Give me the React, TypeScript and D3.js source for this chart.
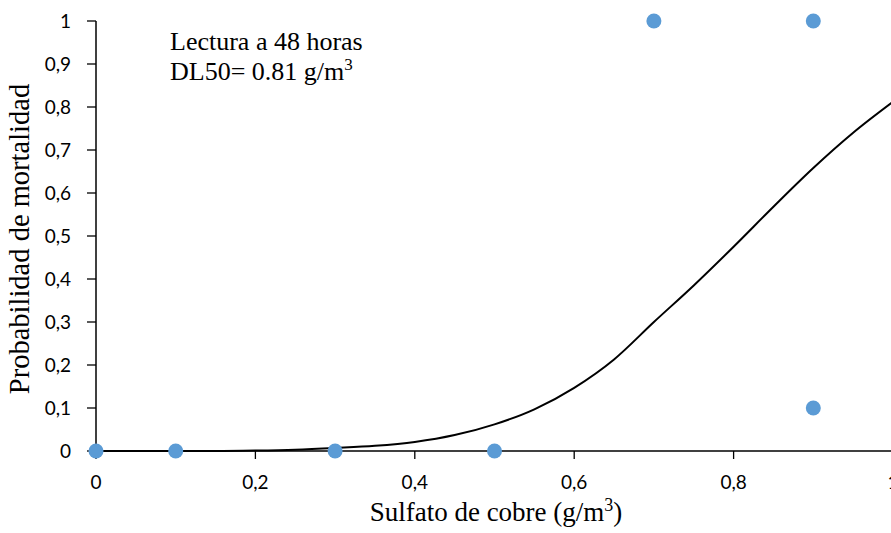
import React, { useRef, useEffect } from "react";
import * as d3 from "d3";

// observed points
const obsX = [0, 0.1, 0.3, 0.5, 0.7, 0.9, 0.9];
const obsY = [0, 0, 0, 0, 1, 1, 0.1];

// fitted probit curve
const fitX = [0, 0.05, 0.1, 0.15, 0.2, 0.25, 0.3, 0.35, 0.4, 0.45, 0.5, 0.55, 0.6, 0.65, 0.7, 0.75, 0.8, 0.85, 0.9, 0.95, 1.0];
const fitY = [0, 0, 0, 0, 0.001, 0.003, 0.007, 0.012, 0.021, 0.037, 0.062, 0.097, 0.147, 0.213, 0.3, 0.385, 0.475, 0.568, 0.658, 0.74, 0.812];

const xTicks = [0, 0.2, 0.4, 0.6, 0.8, 1];
const yTicks = [0, 0.1, 0.2, 0.3, 0.4, 0.5, 0.6, 0.7, 0.8, 0.9, 1];

const W = 891;
const H = 533;
const fmt = (v: number) => String(Math.round(v * 10) / 10).replace(".", ",");

const App = () => {
  const ref = useRef<SVGSVGElement>(null);

  useEffect(() => {
    const svg = d3.select(ref.current);
    svg.selectAll("*").remove();

    const x = d3.scaleLinear().domain([0, 1]).range([96, 893]);
    const y = d3.scaleLinear().domain([0, 1]).range([451, 21]);
    const tickFont = "Lato, 'Open Sans', sans-serif";
    const serif = "'Liberation Serif', 'Times New Roman', serif";

    // y axis
    svg.append("line").attr("x1", 96).attr("x2", 96).attr("y1", y(1)).attr("y2", y(0))
      .attr("stroke", "#000").attr("stroke-width", 1.5);
    yTicks.forEach((t) => {
      svg.append("line").attr("x1", 87).attr("x2", 96).attr("y1", y(t)).attr("y2", y(t))
        .attr("stroke", "#000").attr("stroke-width", 1.3);
      svg.append("text").attr("x", 71).attr("y", y(t)).attr("dy", "0.36em")
        .attr("text-anchor", "end").style("font-family", tickFont).style("font-size", "19px")
        .attr("fill", "#000").text(fmt(t));
    });

    // x axis
    svg.append("line").attr("x1", x(0)).attr("x2", x(1)).attr("y1", y(0)).attr("y2", y(0))
      .attr("stroke", "#000").attr("stroke-width", 1.5);
    xTicks.forEach((t) => {
      svg.append("line").attr("x1", x(t)).attr("x2", x(t)).attr("y1", y(0)).attr("y2", y(0) + 8)
        .attr("stroke", "#000").attr("stroke-width", 1.3);
      svg.append("text").attr("x", x(t)).attr("y", 489)
        .attr("text-anchor", "middle").style("font-family", tickFont).style("font-size", "19px")
        .attr("fill", "#000").text(fmt(t));
    });

    // fitted line
    const pts = fitX.map((v, i) => [v, fitY[i]] as [number, number]);
    const line = d3.line<[number, number]>()
      .x((d) => x(d[0]))
      .y((d) => y(d[1]))
      .curve(d3.curveMonotoneX);
    svg.append("path").datum(pts).attr("fill", "none").attr("stroke", "#000")
      .attr("stroke-width", 2).attr("d", line);

    // observations
    svg.selectAll("circle.obs").data(obsX.map((v, i) => [v, obsY[i]]))
      .enter().append("circle").attr("class", "obs")
      .attr("cx", (d) => x(d[0])).attr("cy", (d) => y(d[1])).attr("r", 7.5)
      .attr("fill", "#5b9bd5");

    // annotation
    svg.append("text").attr("x", 170).attr("y", 50).style("font-family", serif)
      .style("font-size", "26px").attr("fill", "#000").text("Lectura a 48 horas");
    const dl = svg.append("text").attr("x", 170).attr("y", 80).style("font-family", serif)
      .style("font-size", "26px").attr("fill", "#000");
    dl.append("tspan").text("DL50= 0.81 g/m");
    dl.append("tspan").attr("dy", -10).style("font-size", "17px").text("3");

    // axis titles
    const xt = svg.append("text").attr("x", 496).attr("y", 521).attr("text-anchor", "middle")
      .style("font-family", serif).style("font-size", "27px").attr("fill", "#000");
    xt.append("tspan").text("Sulfato de cobre (g/m");
    xt.append("tspan").attr("dy", -10).style("font-size", "18px").text("3");
    xt.append("tspan").attr("dy", 10).text(")");

    svg.append("text").attr("transform", "translate(29,239) rotate(-90)")
      .attr("text-anchor", "middle").style("font-family", serif).style("font-size", "28.5px")
      .attr("fill", "#000").text("Probabilidad de mortalidad");
  }, []);

  return (
    <svg
      ref={ref}
      width={W}
      height={H}
      style={{ position: "absolute", left: 0, top: 0, background: "#fff" }}
    ></svg>
  );
};

export default App;
